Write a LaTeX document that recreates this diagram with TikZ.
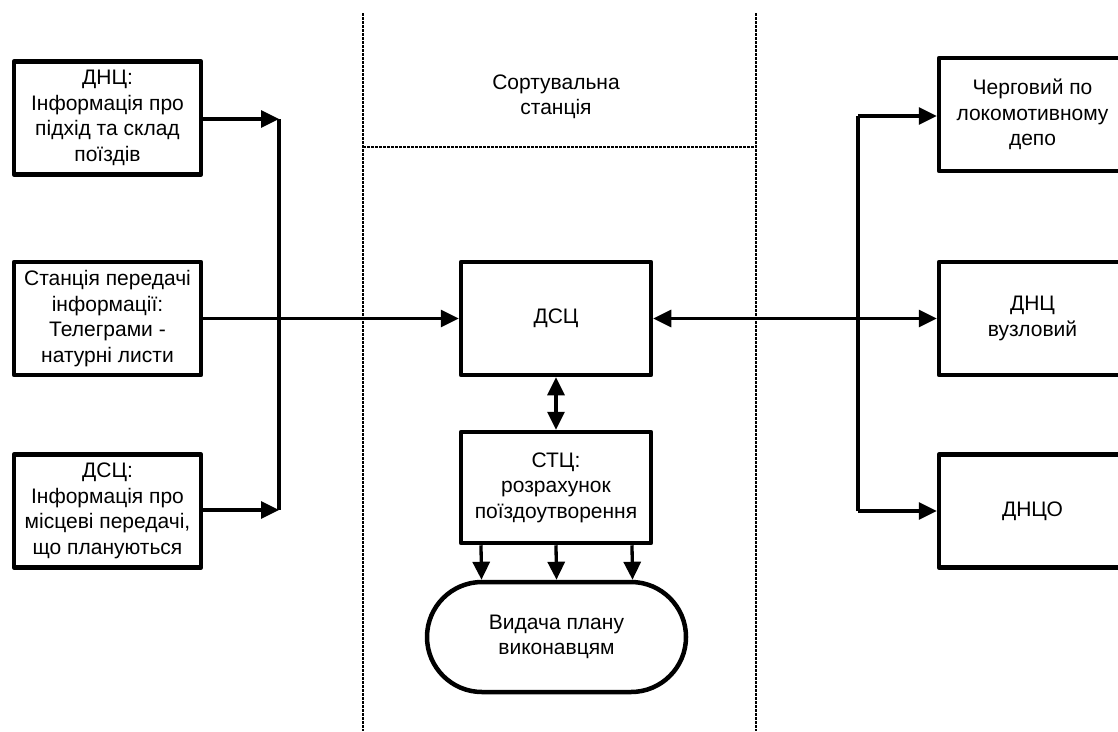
\documentclass[tikz,border=0pt]{standalone}
\usepackage{fontspec}
\setmainfont{Liberation Sans}
\usetikzlibrary{arrows.meta}
\begin{document}
\begin{tikzpicture}[x=1pt,y=-1pt,
  box/.style={draw,line width=4.5pt,line join=round,minimum width=187pt,minimum height=113pt,
    align=center,inner sep=0pt,font=\fontsize{21}{25.5}\selectfont},
  term/.style={box,minimum width=259pt,minimum height=110pt,rounded corners=55pt},
  link/.style={line width=3.3pt},
  arr/.style={link,-{Triangle[length=18pt,width=17pt]}},
  darr/.style={link,{Triangle[length=18pt,width=17pt]}-{Triangle[length=18pt,width=17pt]}},
  zone/.style={line width=1.7pt,dash pattern=on 2.5pt off 1.5pt},
  label/.style={align=center,font=\fontsize{21}{25.5}\selectfont}]
\useasboundingbox (0,0) rectangle (1118,731);

% zone boundaries of the marshalling yard
\draw[zone] (363,13) -- (363,731);
\draw[zone] (756,13) -- (756,731);
\draw[zone] (363,147) -- (756,147);
\node[label] (yard) at (556,97) {Сортувальна\\станція};

% left-hand sources
\node[box] (dnc1) at (107.5,118) {ДНЦ:\\Інформація про\\підхід та склад\\поїздів};
\node[box] (spi) at (107.5,318.5) {Станція передачі\\інформації:\\Телеграми -\\натурні листи};
\node[box] (dsc1) at (107.5,511) {ДСЦ:\\Інформація про\\місцеві передачі,\\що плануються};

% centre
\node[box,minimum width=190pt] (dsc) at (556,318.5) {ДСЦ};
\node[box,minimum width=190pt,minimum height=111pt] (stc) at (556,487.5) {СТЦ:\\розрахунок\\поїздоутворення};
\node[term] (plan) at (556.5,637) {Видача плану\\виконавцям};

% right-hand recipients
\node[box] (cld) at (1032.5,114.5) {Черговий по\\локомотивному\\депо};
\node[box] (dncv) at (1032.5,318.5) {ДНЦ\\вузловий};
\node[box] (dnco) at (1032.5,511) {ДНЦО};

% left bus
\coordinate (lbT) at (279,119);
\coordinate (lbB) at (279,510);
\draw[arr] (dnc1.east |- lbT) -- (lbT);
\draw[arr] (dsc1.east |- lbB) -- (lbB);
\draw[link] (lbT) -- (lbB);
\draw[arr] (spi.east) -- (dsc.west);

% centre links
\draw[darr] (dsc.south) -- (stc.north);
\draw[arr] ([xshift=-75pt]stc.south) -- ([xshift=-75pt]plan.north);
\draw[arr] (stc.south) -- (plan.north);
\draw[arr] ([xshift=76pt]stc.south) -- ([xshift=76pt]plan.north);

% right bus
\coordinate (rbT) at (858,116);
\coordinate (rbB) at (858,511);
\draw[darr] (dsc.east) -- (dncv.west);
\draw[link] (rbB) -- (rbT);
\draw[arr] (rbT) -- (cld.west |- rbT);
\draw[arr] (rbB) -- (dnco.west |- rbB);
\end{tikzpicture}
\end{document}
